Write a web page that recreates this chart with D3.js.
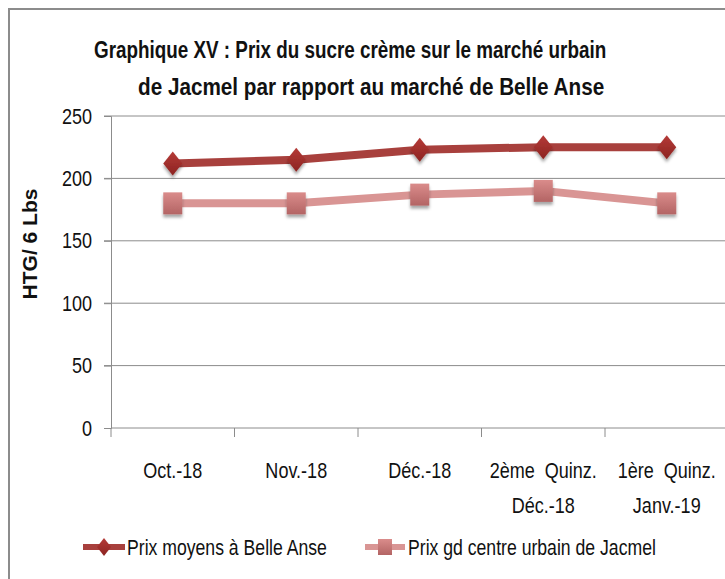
<!DOCTYPE html>
<html>
<head>
<meta charset="utf-8">
<script src="https://cdn.jsdelivr.net/npm/d3@7"></script>
<style>
  body { margin: 0; background: #fff; }
  svg { display: block; }
  text { font-family: "Liberation Sans", Arial, sans-serif; fill: #111; }
</style>
</head>
<body>
<svg id="chart" width="725" height="579"></svg>
<script>
// Prix du sucre crème — Jacmel vs Belle Anse
const categories = [
  ['Oct.-18'],
  ['Nov.-18'],
  ['Déc.-18'],
  ['2ème\u00a0\u00a0Quinz.', 'Déc.-18'],
  ['1ère\u00a0\u00a0Quinz.', 'Janv.-19']
];
const belleAnse = [212, 215, 223, 225, 225];
const jacmel = [180, 180, 187, 190, 180];
const yTicks = [0, 50, 100, 150, 200, 250];
const seriesNames = ['Prix moyens à Belle Anse', 'Prix gd centre urbain de Jacmel'];
const titleLines = ['Graphique XV : Prix du sucre crème sur le marché urbain', 'de Jacmel par rapport au marché de Belle Anse'];

const svg = d3.select('#chart');
const width = 725, height = 579;
const SX = 0.82; // squeeze Liberation Sans into a narrow face

const colors = {
  belle: '#A8403D', belleMarkTop: '#B53A37', belleMarkBot: '#8C2422',
  jac: '#D99594', jacMarkTop: '#DA8C8B', jacMarkBot: '#B36464',
  grid: '#8c8c8c', frame: '#8c8c8c'
};

// narrow text helper
function ntext(parent, x, y, str, size, bold, sx = SX) {
  const t = parent.append('g').attr('transform', `translate(${x},${y}) scale(${sx},1)`)
    .append('text').attr('font-size', size).text(str);
  if (bold) t.attr('font-weight', 'bold');
  return t;
}

// defs: gradients + shadow
const defs = svg.append('defs');
const grad = (id, top, bot) => {
  const g = defs.append('linearGradient').attr('id', id).attr('x1', 0).attr('y1', 0).attr('x2', 0).attr('y2', 1);
  g.append('stop').attr('offset', '0%').attr('stop-color', top);
  g.append('stop').attr('offset', '100%').attr('stop-color', bot);
};
grad('gBelle', colors.belleMarkTop, colors.belleMarkBot);
grad('gJac', colors.jacMarkTop, colors.jacMarkBot);
defs.append('filter').attr('id', 'shadow').attr('x', '-50%').attr('y', '-50%').attr('width', '200%').attr('height', '200%')
  .append('feDropShadow').attr('dx', 0).attr('dy', 3).attr('stdDeviation', 1.8)
  .attr('flood-color', '#000').attr('flood-opacity', 0.35);

// outer frame (only left + top are visible in the crop)
svg.append('path')
  .attr('d', `M9,${height} L9,9 L${width},9`)
  .attr('fill', 'none').attr('stroke', colors.frame).attr('stroke-width', 2);

// title
ntext(svg, 94, 58, titleLines[0], 23, true);
ntext(svg, 138, 95, titleLines[1], 23, true, 0.9);

// scales
const x = d3.scaleBand().domain(d3.range(categories.length)).range([111, 111 + 123.5 * categories.length]).padding(0);
const y = d3.scaleLinear().domain([0, 250]).range([428, 116]);

// gridlines
svg.append('g').selectAll('line').data(yTicks.filter(d => d > 0)).join('line')
  .attr('x1', 104).attr('x2', width).attr('y1', d => y(d)).attr('y2', d => y(d))
  .attr('stroke', colors.grid).attr('stroke-width', 1);

// y axis
const yAxis = svg.append('g').attr('transform', 'translate(111,0)')
  .call(d3.axisLeft(y).tickValues(yTicks).tickSize(7).tickPadding(9));
yAxis.select('.domain').attr('stroke', colors.grid);
yAxis.selectAll('.tick line').attr('stroke', colors.grid);
yAxis.selectAll('.tick text').attr('font-size', 22).attr('fill', '#111')
  .attr('font-family', '"Liberation Sans", Arial, sans-serif')
  .attr('x', -19 / SX).attr('transform', `scale(${SX},1)`);

// x axis
const xAxisG = svg.append('g').attr('transform', 'translate(0,428)');
xAxisG.append('line').attr('x1', 111).attr('x2', width).attr('stroke', colors.grid);
xAxisG.selectAll('line.tk').data(d3.range(categories.length + 1)).join('line').attr('class', 'tk')
  .attr('x1', d => 111 + d * x.step()).attr('x2', d => 111 + d * x.step())
  .attr('y1', 0).attr('y2', 9).attr('stroke', colors.grid);
const catLabels = xAxisG.selectAll('g.cat').data(categories).join('g').attr('class', 'cat')
  .attr('transform', (d, i) => `translate(${x(i) + x.bandwidth() / 2},0) scale(${SX},1)`)
  .append('text').attr('text-anchor', 'middle').attr('font-size', 22);
catLabels.selectAll('tspan').data(d => d).join('tspan')
  .attr('x', 0).attr('y', (d, i) => 50 + i * 35).text(d => d);

// y axis title
svg.append('text')
  .attr('transform', `translate(37,${(y(0) + y(250)) / 2 - 28}) rotate(-90)`)
  .attr('text-anchor', 'middle').attr('font-size', 21).attr('font-weight', 'bold')
  .text('HTG/ 6 Lbs');

// lines
const line = d3.line().x((d, i) => x(i) + x.bandwidth() / 2).y(d => y(d));
svg.append('path').datum(jacmel).attr('d', line)
  .attr('fill', 'none').attr('stroke', colors.jac).attr('stroke-width', 8).attr('stroke-linejoin', 'round');
svg.append('path').datum(belleAnse).attr('d', line)
  .attr('fill', 'none').attr('stroke', colors.belle).attr('stroke-width', 8).attr('stroke-linejoin', 'round');

// markers
const diamond = (cx, cy, w, h) => `M${cx},${cy - h / 2} L${cx + w / 2},${cy} L${cx},${cy + h / 2} L${cx - w / 2},${cy} Z`;
svg.append('g').attr('filter', 'url(#shadow)').selectAll('rect').data(jacmel).join('rect')
  .attr('x', (d, i) => x(i) + x.bandwidth() / 2 - 9.5).attr('y', d => y(d) - 11)
  .attr('width', 19).attr('height', 22).attr('fill', 'url(#gJac)');
svg.append('g').attr('filter', 'url(#shadow)').selectAll('path').data(belleAnse).join('path')
  .attr('d', (d, i) => diamond(x(i) + x.bandwidth() / 2, y(d), 19, 24)).attr('fill', 'url(#gBelle)');

// legend
const legend = svg.append('g').attr('transform', 'translate(0,547)');
legend.append('line').attr('x1', 83).attr('x2', 125).attr('stroke', colors.belle).attr('stroke-width', 6);
legend.append('path').attr('d', diamond(104, 0, 14, 18)).attr('fill', 'url(#gBelle)');
ntext(legend, 127, 8, seriesNames[0], 21.5);
legend.append('line').attr('x1', 365).attr('x2', 405).attr('stroke', colors.jac).attr('stroke-width', 6);
legend.append('rect').attr('x', 378).attr('y', -8).attr('width', 14).attr('height', 16).attr('fill', 'url(#gJac)');
ntext(legend, 408, 8, seriesNames[1], 21.5);
</script>
</body>
</html>
